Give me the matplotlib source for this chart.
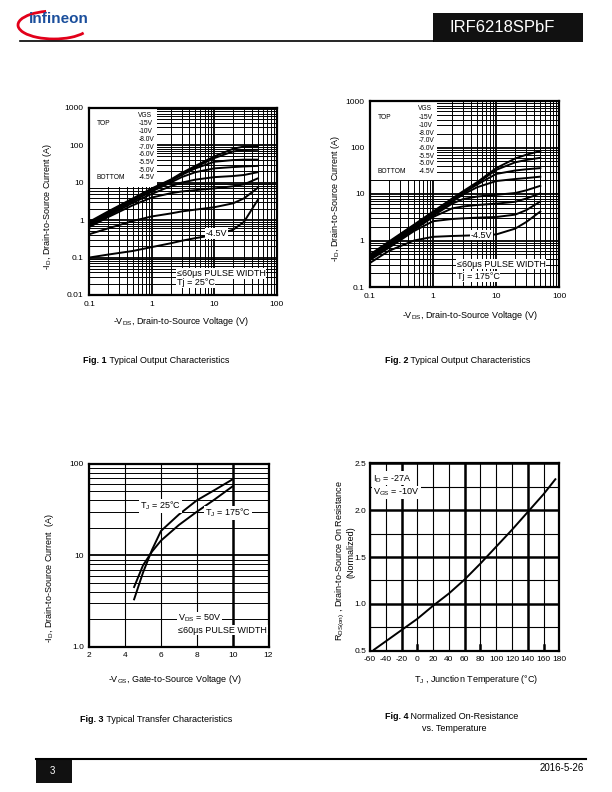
import numpy as np
import matplotlib
matplotlib.use("Agg")
import matplotlib.pyplot as plt
from matplotlib.ticker import LogLocator, NullFormatter, MultipleLocator
from matplotlib.patches import Rectangle, Arc

plt.rcParams['font.family'] = ['Liberation Sans', 'DejaVu Sans']
plt.rcParams['mathtext.default'] = 'regular'
plt.rcParams['axes.unicode_minus'] = False

# ---- data ----
vgs_labels = ["-15V", "-10V", "-8.0V", "-7.0V", "-6.0V", "-5.5V", "-5.0V", "-4.5V"]
vds = [0.1, 0.2, 0.5, 1, 2, 3, 5, 10, 20, 30, 50]

# Fig 1, Tj = 25C (one row per VGS, top to bottom)
id_25c = [
    [0.9, 1.7, 3.8, 7.0, 12, 18, 28, 50, 80, 92, 95],
    [0.85, 1.6, 3.6, 6.6, 11.5, 17, 26, 45, 68, 74, 75],
    [0.8, 1.5, 3.4, 6.2, 11, 16, 24, 36, 40, 41, 41],
    [0.75, 1.4, 3.2, 5.8, 10, 14, 19, 24, 26, 27, 28],
    [0.7, 1.3, 2.9, 5.0, 8.0, 10, 12, 14, 15, 16, 19],
    [0.65, 1.2, 2.5, 4.0, 5.2, 5.8, 6.3, 7.0, 8.0, 9.0, 13],
    [0.42, 0.6, 0.95, 1.25, 1.5, 1.7, 1.9, 2.2, 2.8, 3.8, 7.3],
    [0.1, 0.12, 0.15, 0.19, 0.24, 0.28, 0.33, 0.4, 0.55, 0.9, 3.5],
]

# Fig 2, Tj = 175C
id_175c = [
    [0.5, 0.95, 2.2, 4.2, 8.0, 11.5, 18, 36, 58, 70, 84],
    [0.48, 0.9, 2.1, 4.0, 7.6, 11, 17, 33, 48, 54, 60],
    [0.46, 0.87, 2.0, 3.8, 7.2, 10.5, 16, 27, 32, 34, 36],
    [0.44, 0.83, 1.9, 3.6, 6.8, 9.8, 14, 19, 21, 22, 23.6],
    [0.42, 0.8, 1.8, 3.4, 6.2, 7.8, 8.8, 9.6, 10.5, 12, 15],
    [0.4, 0.76, 1.7, 3.2, 4.9, 5.4, 5.8, 6.2, 6.8, 8.0, 10.3],
    [0.38, 0.7, 1.6, 2.6, 2.9, 3.0, 3.1, 3.2, 3.6, 4.5, 6.9],
    [0.33, 0.6, 1.0, 1.2, 1.25, 1.27, 1.3, 1.35, 1.8, 2.5, 4.2],
]

# Fig 3, transfer characteristics
vgs_transfer = [4.5, 5.0, 5.5, 6.0, 7.0, 8.0, 9.0, 10.0]
id_tj25 = [3.3, 6.5, 11.5, 18.5, 28, 40, 52, 68]
id_tj175 = [4.5, 7.8, 11, 14.5, 21.5, 30, 41, 57]

# Fig 4, normalized on-resistance vs temperature
tj = [-55, -40, -20, 0, 20, 40, 60, 80, 100, 120, 140, 160, 175]
rds_norm = [0.51, 0.6, 0.72, 0.84, 0.98, 1.11, 1.26, 1.43, 1.61, 1.79, 1.98, 2.17, 2.33]

W, H = 612, 792
fig = plt.figure(figsize=(W / 100, H / 100), dpi=100)

page = fig.add_axes([0, 0, 1, 1], zorder=0)
page.set_xlim(0, W)
page.set_ylim(H, 0)
page.axis('off')


def px_axes(left, top, right, bottom):
    ax = fig.add_axes([left / W, 1 - bottom / H, (right - left) / W, (bottom - top) / H], zorder=1)
    for s in ax.spines.values():
        s.set_linewidth(1.6)
    ax.tick_params(which='both', length=0, labelsize=6, pad=4)
    ax.set_axisbelow(True)
    return ax


def log_grid(ax, xlog=True):
    if xlog:
        ax.xaxis.set_minor_locator(LogLocator(base=10, subs=np.arange(2, 10), numticks=20))
        ax.xaxis.set_minor_formatter(NullFormatter())
    ax.yaxis.set_minor_locator(LogLocator(base=10, subs=np.arange(2, 10), numticks=20))
    ax.yaxis.set_minor_formatter(NullFormatter())
    ax.grid(which='major', color='k', lw=1.3)
    ax.grid(which='minor', color='k', lw=0.7)


def output_chart(ax, curves, ylim, yticks, legend_box, leg_top, tj_text, lbl45, pw_pos, tj_pos):
    ax.set_xscale('log')
    ax.set_yscale('log')
    ax.set_xlim(0.1, 100)
    ax.set_ylim(*ylim)
    ax.set_xticks([0.1, 1, 10, 100], ["0.1", "1", "10", "100"])
    ax.set_yticks(yticks, [("%g" % v) for v in yticks])
    log_grid(ax)
    for row in curves:
        ax.plot(vds, row, color='k', lw=1.4, zorder=3)
    # legend block
    bx, by, bw, bh = legend_box
    ax.add_patch(Rectangle((bx, by), bw, bh, transform=ax.transAxes, fc='white', ec='none', zorder=2))
    col_x, top_y, step = leg_top
    ax.text(col_x, top_y + 0.048, "VGS", transform=ax.transAxes, fontsize=4.8, va='center', zorder=4)
    for i, lab in enumerate(vgs_labels):
        ax.text(col_x, top_y - i * step, lab, transform=ax.transAxes, fontsize=4.8, va='center', zorder=4)
    ax.text(0.04, top_y, "TOP", transform=ax.transAxes, fontsize=4.8, va='center', zorder=4)
    ax.text(0.04, top_y - 7 * step, "BOTTOM", transform=ax.transAxes, fontsize=4.8, va='center', zorder=4)
    box = dict(fc='white', ec='none', pad=0.6)
    ax.text(lbl45[0], lbl45[1], "-4.5V", fontsize=6.5, ha='center', va='center', bbox=box, zorder=4)
    ax.text(pw_pos[0], pw_pos[1], "\u226460\u03bcs PULSE WIDTH", fontsize=6.5, va='center', bbox=box, zorder=4)
    ax.text(tj_pos[0], tj_pos[1], tj_text, fontsize=6.5, va='center', bbox=box, zorder=4)


# ---- Fig 1 ----
ax1 = px_axes(89.3, 107.7, 276.7, 295)
output_chart(ax1, id_25c, (0.01, 1000), [0.01, 0.1, 1, 10, 100, 1000],
             (0, 0.578, 0.36, 0.422), (0.261, 0.913, 0.0411), "Tj = 25\u00b0C",
             (11, 0.43), (2.5, 0.038), (2.5, 0.021))
page.text(48, 206, "-I$_{D}$, Drain-to-Source Current (A)", rotation=90, fontsize=6.5, ha='center', va='center')
page.text(181, 322, "-V$_{DS}$, Drain-to-Source Voltage (V)", fontsize=6.5, ha='center', va='center')

# ---- Fig 2 ----
ax2 = px_axes(370, 101, 559.3, 287)
output_chart(ax2, id_175c, (0.1, 1000), [0.1, 1, 10, 100, 1000],
             (0, 0.575, 0.354, 0.425), (0.255, 0.910, 0.0414), "Tj = 175\u00b0C",
             (5.9, 1.31), (2.37, 0.31), (2.37, 0.166))
page.text(336, 198, "-I$_{D}$, Drain-to-Source Current (A)", rotation=90, fontsize=6.5, ha='center', va='center')
page.text(470, 316, "-V$_{DS}$, Drain-to-Source Voltage (V)", fontsize=6.5, ha='center', va='center')

# ---- Fig 3 ----
ax3 = px_axes(89.3, 464, 268.5, 646.7)
ax3.set_yscale('log')
ax3.set_xlim(2, 12)
ax3.set_ylim(1, 100)
ax3.set_xticks(np.arange(2, 13, 2))
ax3.set_yticks([1, 10, 100], ["1.0", "10", "100"])
log_grid(ax3, xlog=False)
ax3.grid(which='major', axis='x', color='k', lw=0.8)
ax3.axvline(10, color='k', lw=1.8, zorder=1)
ax3.plot(vgs_transfer, id_tj25, color='k', lw=1.4, zorder=3)
ax3.plot(vgs_transfer, id_tj175, color='k', lw=1.4, zorder=3)
box = dict(fc='white', ec='none', pad=0.6)
ax3.text(4.84, 35, "T$_{J}$ = 25\u00b0C", fontsize=6.5, va='center', bbox=box, zorder=4)
ax3.text(8.47, 29, "T$_{J}$ = 175\u00b0C", fontsize=6.5, va='center', bbox=box, zorder=4)
ax3.text(6.96, 2.05, "V$_{DS}$ = 50V", fontsize=6.5, va='center', bbox=box, zorder=4)
ax3.text(6.96, 1.52, "\u226460\u03bcs PULSE WIDTH", fontsize=6.5, va='center', bbox=box, zorder=4)
page.text(50, 578, "-I$_{D}$, Drain-to-Source Current  (A)", rotation=90, fontsize=6.5, ha='center', va='center')
page.text(175, 680, "-V$_{GS}$, Gate-to-Source Voltage (V)", fontsize=6.5, ha='center', va='center')

# ---- Fig 4 ----
ax4 = px_axes(370, 463.3, 559.3, 650.7)
ax4.tick_params(axis='y', pad=2.5)
ax4.set_xlim(-60, 180)
ax4.set_ylim(0.5, 2.5)
ax4.set_xticks(np.arange(-60, 181, 20))
ax4.set_yticks(np.arange(0.5, 2.51, 0.5), ["0.5", "1.0", "1.5", "2.0", "2.5"])
ax4.yaxis.set_minor_locator(MultipleLocator(0.25))
ax4.grid(which='major', axis='x', color='k', lw=0.8)
ax4.grid(which='major', axis='y', color='k', lw=1.8)
ax4.grid(which='minor', axis='y', color='k', lw=0.8)
for xv in (-20, 60, 140):
    ax4.axvline(xv, color='k', lw=1.8, zorder=1)
for xv in (0, 80, 160):
    ax4.axvline(xv, ymax=0.03, color='k', lw=1.8, zorder=1)
ax4.plot(tj, rds_norm, color='k', lw=1.4, zorder=3)
ax4.text(-56, 2.34, "I$_{D}$ = -27A", fontsize=6.5, va='center', bbox=box, zorder=4)
ax4.text(-56, 2.19, "V$_{GS}$ = -10V", fontsize=6.5, va='center', bbox=box, zorder=4)
page.text(340, 561, "R$_{DS(on)}$ , Drain-to-Source On Resistance", rotation=90, fontsize=6.5, ha='center', va='center')
page.text(351.5, 552, "(Normalized)", rotation=90, fontsize=6.5, ha='center', va='center')
page.text(476, 680, "T$_{J}$ , Junction Temperature (\u00b0C)", fontsize=6.5, ha='center', va='center')

# ---- captions ----
def caption(x, y, fig_no, rest):
    t = page.text(x, y, fig_no, fontsize=6.5, weight='bold', va='baseline')
    page.annotate(" " + rest, xy=(1, 0), xycoords=t, fontsize=6.5, va='bottom', ha='left')

caption(83, 363, "Fig. 1", "Typical Output Characteristics")
caption(385, 363, "Fig. 2", "Typical Output Characteristics")
caption(80, 722, "Fig. 3", "Typical Transfer Characteristics")
caption(385, 719, "Fig. 4", "Normalized On-Resistance")
page.text(454, 731, "vs. Temperature", fontsize=6.5, ha='center', va='baseline')

# ---- header ----
page.plot([20, 433], [41, 41], color='k', lw=1.2)
page.add_patch(Rectangle((433, 13), 150, 29, fc='#111111', ec='none'))
page.text(502, 28, "IRF6218SPbF", color='white', fontsize=12, ha='center', va='center')
page.add_patch(Arc((54, 25), 72, 28, theta1=15, theta2=240, color='#e2001a', lw=2.0))
page.text(59, 19, "infineon", color='#1b4f9c', fontsize=11, weight='bold', ha='center', va='center')

# ---- footer ----
page.plot([36, 586], [758.5, 758.5], color='k', lw=1.5)
page.add_patch(Rectangle((36, 759), 36, 24, fc='#111111', ec='none'))
page.text(52, 771, "3", color='white', fontsize=7, ha='center', va='center')
page.text(584, 768, "2016-5-26", fontsize=7, ha='right', va='center')

fig.savefig("out.png", dpi=100)
